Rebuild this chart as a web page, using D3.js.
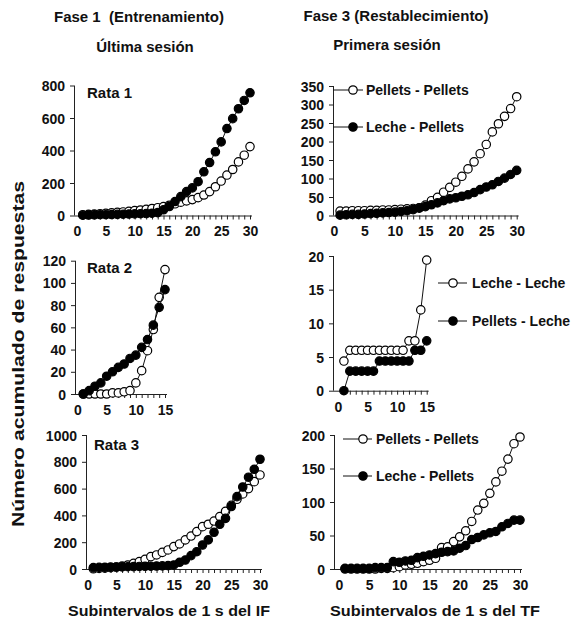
<!DOCTYPE html>
<html>
<head>
<meta charset="utf-8">
<script src="https://cdn.jsdelivr.net/npm/d3@7"></script>
<style>
  body { margin: 0; background: #fff; }
  svg { display: block; }
  text { font-family: "Liberation Sans", Arial, sans-serif; font-weight: bold; fill: #111; }
</style>
</head>
<body>
<div id="chart"></div>
<script>
// subintervals (x categories)
const subint30 = [1,2,3,4,5,6,7,8,9,10,11,12,13,14,15,16,17,18,19,20,21,22,23,24,25,26,27,28,29,30];
const subint15 = [1,2,3,4,5,6,7,8,9,10,11,12,13,14,15];

// Fase 1 - Ultima sesion
const rata1Open   = [5,7,9,11,13,16,19,22,26,30,34,38,43,48,55,63,72,82,90,98,110,126,147,177,212,249,283,330,371,424];
const rata1Filled = [2,3,4,5,5,6,7,8,9,10,11,12,14,18,35,55,86,116,147,170,208,269,326,392,453,535,596,657,708,755];
const rata2Open   = [0,0,0,0,0,1,1,2,3,10,21,39,58,87,112];
const rata2Filled = [0,3,7,10,16,20,24,27,32,35,42,49,62,78,94];
const rata3Open   = [2,4,6,10,15,22,30,42,55,72,92,105,124,142,167,187,217,246,279,316,334,358,391,430,475,520,560,600,652,702];
const rata3Filled = [10,12,13,14,15,16,17,18,19,20,21,22,23,25,30,50,67,100,129,179,217,274,334,378,466,540,612,685,744,819];

// Fase 3 - Primera sesion
const pelletsPellets1 = [12,12,13,13,13,14,14,15,15,16,17,18,19,21,28,40,49,63,76,90,106,126,145,167,192,226,248,268,289,321];
const lechePellets1   = [1,2,3,3,4,5,6,7,8,9,11,13,16,20,24,29,34,40,45,48,52,56,62,70,77,83,92,101,111,122];
const lecheLeche      = [4.4,6,6,6,6,6,6,6,6,6,6,7.4,7.4,12,19.4];
const pelletsLeche    = [0,2.9,2.9,2.9,2.9,2.9,4.4,4.4,4.4,4.4,4.4,4.4,6,6,7.4];
const pelletsPellets3 = [0,0,0,0,0,0,1,1,2,3.5,6,7,8.5,11,13,16,32,33,41,48,57,71,88,98,113,130,146,164,187,197];
const lechePellets3   = [1,1,1,1,1,2,2,2,11,10,12,13,17,19,21,23,25,26,27,31,35,44,47,51,54,56,63,68,73,73];

// tick labels
const xTicks30 = [0,5,10,15,20,25,30];
const xTicks15 = [0,5,10,15];
const yTicksR1 = [0,200,400,600,800];
const yTicksPP1 = [0,50,100,150,200,250,300,350];
const yTicksR2 = [0,20,40,60,80,100,120];
const yTicksLL = [0,5,10,15,20];
const yTicksR3 = [0,200,400,600,800,1000];
const yTicksPP3 = [0,50,100,150,200];

const W = 572, H = 619;
const svg = d3.select("#chart").append("svg").attr("width", W).attr("height", H);

const panels = [
  { xs: subint30, open: rata1Open, filled: rata1Filled, xTicks: xTicks30, yTicks: yTicksR1,
    xr: [77, 250], yr: [215.5, 85.5], axisX: 74, label: "Rata 1", labelAt: [87, 98] },
  { xs: subint30, open: pelletsPellets1, filled: lechePellets1, xTicks: xTicks30, yTicks: yTicksPP1,
    xr: [334, 516.7], yr: [215.5, 86], axisX: 333,
    legend: { names: ["Pellets - Pellets", "Leche - Pellets"], x1: 333, x2: 363, cx: 353, tx: 366, ys: [90, 127] } },
  { xs: subint15, open: rata2Open, filled: rata2Filled, xTicks: xTicks15, yTicks: yTicksR2,
    xr: [77.5, 165], yr: [394, 260.7], axisX: 75, label: "Rata 2", labelAt: [87, 273] },
  { xs: subint15, open: lecheLeche, filled: pelletsLeche, xTicks: xTicks15, yTicks: yTicksLL,
    xr: [338, 426.7], yr: [390.7, 256], axisX: 333,
    legend: { names: ["Leche - Leche", "Pellets - Leche"], x1: 438, x2: 467, cx: 453, tx: 472, ys: [283, 321] } },
  { xs: subint30, open: rata3Open, filled: rata3Filled, xTicks: xTicks30, yTicks: yTicksR3,
    xr: [87.6, 260], yr: [569, 435], axisX: 86, label: "Rata 3", labelAt: [94, 450] },
  { xs: subint30, open: pelletsPellets3, filled: lechePellets3, xTicks: xTicks30, yTicks: yTicksPP3,
    xr: [339, 520], yr: [569, 435], axisX: 334,
    legend: { names: ["Pellets - Pellets", "Leche - Pellets"], x1: 343, x2: 372, cx: 363, tx: 376, ys: [439, 476] } }
];

const R = 4.2;

panels.forEach(p => {
  const xMax = d3.max(p.xTicks);
  const x = d3.scaleLinear().domain([0, xMax]).range(p.xr);
  const y = d3.scaleLinear().domain([0, d3.max(p.yTicks)]).range(p.yr);
  const g = svg.append("g");

  // y axis
  const yAx = g.append("g").attr("transform", `translate(${p.axisX},0)`)
    .call(d3.axisLeft(y).tickValues(p.yTicks).tickSize(4).tickPadding(5).tickFormat(d3.format("d")));
  yAx.selectAll("text").style("font-size", "14px").attr("dy", "0.36em");

  // x axis: minor ticks every unit, labels every 5
  const xAx = g.append("g").attr("transform", `translate(0,${p.yr[0]})`)
    .call(d3.axisBottom(x).tickValues(d3.range(0, xMax + 1)).tickSize(4).tickPadding(7)
      .tickFormat(d => p.xTicks.includes(d) ? d : ""));
  xAx.selectAll("text").style("font-size", "14px");
  xAx.select(".domain").attr("d", `M${p.axisX},0.5H${x(xMax) + 2}`);
  xAx.select(".tick").select("line").remove();
  [yAx, xAx].forEach(a => {
    a.selectAll("line, path").attr("stroke", "#222").attr("stroke-width", 1);
  });
  yAx.select(".domain").attr("d", `M0.5,${p.yr[0]}V${p.yr[1]}`);

  const pts = (vals) => p.xs.map((v, i) => ({ x: v, y: vals[i] }));
  const line = d3.line().x(d => x(d.x)).y(d => y(d.y));

  [[p.open, "#fff"], [p.filled, "#000"]].forEach(([vals, fill]) => {
    const data = pts(vals);
    g.append("path").datum(data).attr("d", line)
      .attr("fill", "none").attr("stroke", "#111").attr("stroke-width", 1);
    g.selectAll(null).data(data).enter().append("circle")
      .attr("cx", d => x(d.x)).attr("cy", d => y(d.y)).attr("r", R)
      .attr("fill", fill).attr("stroke", "#000").attr("stroke-width", 1.2);
  });

  if (p.label) {
    g.append("text").attr("x", p.labelAt[0]).attr("y", p.labelAt[1])
      .style("font-size", "15px").text(p.label);
  }
  if (p.legend) {
    const L = p.legend;
    L.names.forEach((name, i) => {
      const ly = L.ys[i];
      g.append("line").attr("x1", L.x1).attr("x2", L.x2).attr("y1", ly).attr("y2", ly)
        .attr("stroke", "#111").attr("stroke-width", 1);
      g.append("circle").attr("cx", L.cx).attr("cy", ly).attr("r", R)
        .attr("fill", i === 0 ? "#fff" : "#000").attr("stroke", "#000").attr("stroke-width", 1.2);
      g.append("text").attr("x", L.tx).attr("y", ly + 5).style("font-size", "14px").text(name);
    });
  }
});

// titles  [text, x, y, width]
const titles = [
  ["Fase 1  (Entrenamiento)", 139, 22, null],
  ["Última sesión", 145, 52, null],
  ["Fase 3 (Restablecimiento)", 396, 21, null],
  ["Primera sesión", 387, 50, null],
  ["Subintervalos de 1 s del IF", 169, 616, 202],
  ["Subintervalos de 1 s del TF", 435, 616, 210]
];
titles.forEach(([t, tx, ty, tw]) => {
  const el = svg.append("text").attr("x", tx).attr("y", ty).attr("text-anchor", "middle")
    .style("font-size", "15px").style("white-space", "pre").text(t);
  if (tw) el.attr("textLength", tw).attr("lengthAdjust", "spacingAndGlyphs");
});

svg.append("text")
  .attr("transform", "translate(24,354) rotate(-90)")
  .attr("text-anchor", "middle")
  .style("font-size", "16px")
  .attr("textLength", 346)
  .attr("lengthAdjust", "spacingAndGlyphs")
  .text("Número acumulado de respuestas");
</script>
</body>
</html>
